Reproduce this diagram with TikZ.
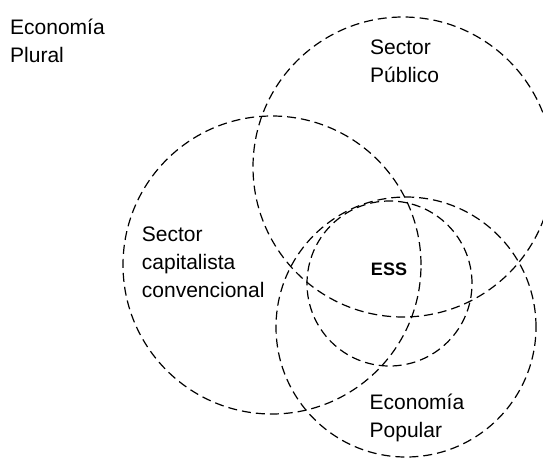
\documentclass[tikz,border=0pt]{standalone}
\usepackage{fontspec}
\setmainfont{Liberation Sans}
\begin{document}
\begin{tikzpicture}[x=1pt,y=-1pt,
  setring/.style={circle, draw=black, line width=1.2pt,
    dash pattern=on 9pt off 5pt, minimum size=#1, inner sep=0pt},
  lbl/.style={anchor=base west, align=left, inner sep=0pt,
    font=\fontsize{21}{28}\selectfont},
  core/.style={anchor=base, inner sep=0pt,
    font=\fontsize{18}{22}\selectfont\bfseries}]
\useasboundingbox (0,0) rectangle (543,458);

% the four overlapping sectors
\node[setring=300pt] (publico)     at (403,167)   {};
\node[setring=298pt] (capitalista) at (272,265)   {};
\node[setring=260pt] (popular)     at (406,327)   {};
\node[setring=165pt] (ess)         at (389.5,283.5) {};

% labels (positioned by the baseline of their last line)
\node[lbl] (plural)   at (10,62.7)    {Economía\\Plural};
\node[lbl] (tpublico) at (370,82)     {Sector\\Público};
\node[lbl] (tcapital) at (141.7,297.7) {Sector\\capitalista\\convencional};
\node[lbl] (tpopular) at (369.5,437)  {Economía\\Popular};
\node[core] (tess)    at (389,275)    {ESS};
\end{tikzpicture}
\end{document}
